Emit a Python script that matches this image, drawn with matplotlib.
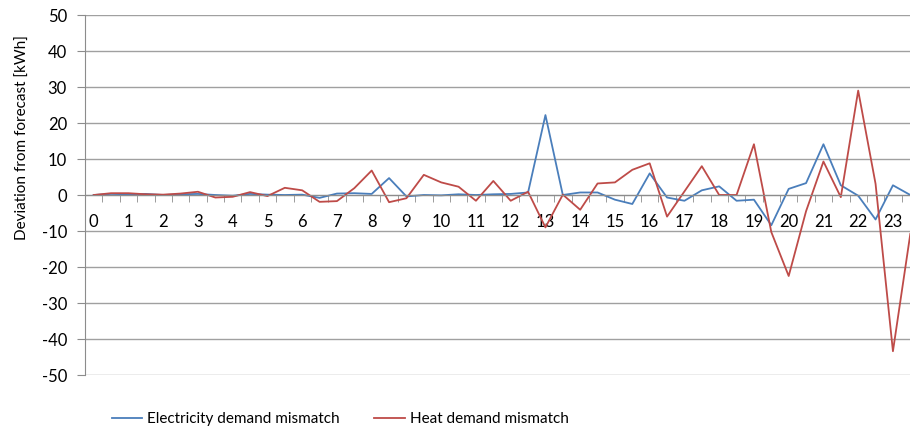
import numpy as np
import matplotlib
matplotlib.use("Agg")
import matplotlib.pyplot as plt
from matplotlib.ticker import FixedLocator

plt.rcParams['font.family'] = ['Lato', 'DejaVu Sans']
plt.rcParams['axes.unicode_minus'] = False

# half-hourly slots, labelled by hour
hour_labels = [str(h) for h in range(24)]

electricity = [0.0, 0.3, 0.2, 0.3, 0.0, 0.2, 0.3, 0.0, -0.2, 0.3, 0.1, 0.0,
               0.1, -0.8, 0.4, 0.5, 0.3, 4.7, -0.4, 0.0, -0.1, 0.2, 0.0, 0.2,
               0.3, 0.7, 22.2, 0.0, 0.7, 0.7, -1.3, -2.5, 6.0, -0.7, -1.6, 1.3,
               2.4, -1.6, -1.3, -8.4, 1.7, 3.3, 14.1, 2.7, -0.2, -6.8, 2.7, 0.0]

heat = [0.0, 0.5, 0.5, 0.2, 0.1, 0.4, 0.9, -0.7, -0.5, 0.8, -0.3, 2.0,
        1.3, -1.9, -1.7, 1.9, 6.8, -2.0, -0.9, 5.6, 3.5, 2.3, -1.6, 3.9,
        -1.6, 0.9, -9.0, 0.1, -4.1, 3.2, 3.5, 7.0, 8.8, -6.0, 1.0, 8.0,
        0.0, 0.0, 14.1, -10.3, -22.5, -4.5, 9.3, -0.6, 29.0, 3.1, -43.4, -10.8]

x = np.arange(len(electricity))

fig = plt.figure(figsize=(9.1, 4.32), dpi=100)
ax = fig.add_axes([85 / 910, 1 - 375 / 432, 834 / 910, 360 / 432])

ax.plot(x, electricity, color='#4a7ebb', lw=1.3, label='Electricity demand mismatch')
ax.plot(x, heat, color='#be4b48', lw=1.3, label='Heat demand mismatch')

ax.set_xlim(-0.5, len(x) - 0.5)
ax.set_ylim(-50, 50)
ax.set_yticks(range(-50, 51, 10))
ax.grid(axis='y', color='#a0a0a0', lw=1.0)
ax.set_axisbelow(True)

for side in ('top', 'right'):
    ax.spines[side].set_visible(False)
ax.spines['left'].set_color('#8c8c8c')
ax.spines['bottom'].set_position(('data', 0))
ax.spines['bottom'].set_color('#8c8c8c')

ax.tick_params(axis='y', length=6, color='#8c8c8c', labelsize=12, pad=7,
               labelcolor='black')
ax.xaxis.set_major_locator(FixedLocator(x[::2]))
ax.set_xticklabels(hour_labels)
ax.xaxis.set_minor_locator(FixedLocator(x[:-1] + 0.5))
ax.tick_params(axis='x', which='major', length=0, labelsize=12, pad=14)
ax.tick_params(axis='x', which='minor', length=5, color='#8c8c8c')

ax.set_ylabel('Deviation from forecast [kWh]', fontsize=11)
ax.yaxis.set_label_coords(-0.066, 0.66)

fig.legend(loc='center', bbox_to_anchor=(340 / 910, 1 - 419 / 432), ncol=2,
           frameon=False, fontsize=11, handlelength=2.0, columnspacing=2.3,
           handletextpad=0.3)

fig.savefig('out.png', dpi=100)
